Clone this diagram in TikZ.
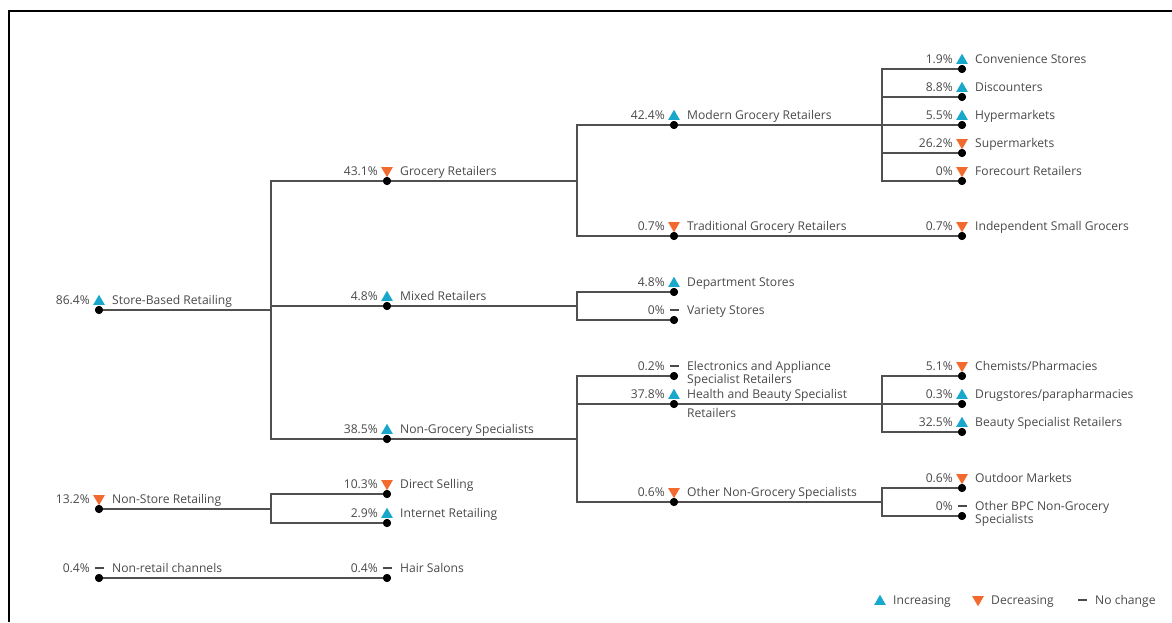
\documentclass[tikz,border=0pt]{standalone}
\usepackage{fontspec}
\setmainfont{Open Sans}
\usetikzlibrary{shapes.geometric}
\definecolor{upc}{HTML}{1AA7CC}
\definecolor{downc}{HTML}{F26A2E}
\definecolor{txt}{HTML}{4A4A4A}
\definecolor{linec}{HTML}{505050}
\tikzset{
  dotn/.style={circle,fill=black,inner sep=0,minimum size=8},
  upn/.style={regular polygon,regular polygon sides=3,fill=upc,inner sep=0,minimum size=13.5},
  downn/.style={regular polygon,regular polygon sides=3,shape border rotate=180,fill=downc,inner sep=0,minimum size=13.5},
  flatn/.style={rectangle,fill=txt,inner sep=0,minimum width=9,minimum height=1.8},
  txtn/.style={text=txt,inner sep=0,font=\fontsize{12.1}{13}\selectfont},
  conn/.style={draw=linec,line width=1.1},
}
% name, x, y, pct, symbol style, label
\newcommand\entry[6]{%
  \node[dotn] (#1) at (#2,#3) {};
  \ifx#5u\node[upn] (#1-s) at (#2,#3-8.5) {};\fi
  \ifx#5d\node[downn] (#1-s) at (#2,#3-10.5) {};\fi
  \ifx#5f\node[flatn] (#1-s) at (#2,#3-10) {};\fi
  \node[txtn,anchor=base east] (#1-p) at (#2-9,#3-6) {#4};
  \node[txtn,anchor=base west] (#1-l) at (#2+13,#3-6) {#6};
}
\begin{document}
\begin{tikzpicture}[x=1pt,y=-1pt]
\useasboundingbox (0,0) rectangle (1172,622);
\fill[white] (0,0) rectangle (1172,622);
\draw[line width=2.5] (9,622) -- (9,11) -- (1172,11);

% level 0
\entry{sbr}{99}{310}{86.4\%}{u}{Store-Based Retailing}
\entry{nsr}{99}{509}{13.2\%}{d}{Non-Store Retailing}
\entry{nrc}{99}{578}{0.4\%}{f}{Non-retail channels}
% level 1
\entry{gro}{387}{181}{43.1\%}{d}{Grocery Retailers}
\entry{mix}{387}{306}{4.8\%}{u}{Mixed Retailers}
\entry{ngs}{387}{439}{38.5\%}{u}{Non-Grocery Specialists}
\entry{dsl}{387}{494}{10.3\%}{d}{Direct Selling}
\entry{int}{387}{523}{2.9\%}{u}{Internet Retailing}
\entry{hair}{387}{578}{0.4\%}{f}{Hair Salons}
% level 2
\entry{mgr}{674}{125}{42.4\%}{u}{Modern Grocery Retailers}
\entry{tgr}{674}{236}{0.7\%}{d}{Traditional Grocery Retailers}
\entry{dep}{674}{292}{4.8\%}{u}{Department Stores}
\entry{var}{674}{320}{0\%}{f}{Variety Stores}
\entry{ele}{674}{376}{0.2\%}{f}{Electronics and Appliance}
\node[txtn,anchor=base west] (ele-l2) at (687,383) {Specialist Retailers};
\entry{hbs}{674}{404}{37.8\%}{u}{Health and Beauty Specialist}
\node[txtn,anchor=base west] (hbs-l2) at (687,417) {Retailers};
\entry{ong}{674}{502}{0.6\%}{d}{Other Non-Grocery Specialists}
% level 3
\entry{cvs}{962}{69}{1.9\%}{u}{Convenience Stores}
\entry{dis}{962}{97}{8.8\%}{u}{Discounters}
\entry{hyp}{962}{125}{5.5\%}{u}{Hypermarkets}
\entry{sup}{962}{153}{26.2\%}{d}{Supermarkets}
\entry{fcr}{962}{181}{0\%}{d}{Forecourt Retailers}
\entry{isg}{962}{236}{0.7\%}{d}{Independent Small Grocers}
\entry{chm}{962}{376}{5.1\%}{d}{Chemists/Pharmacies}
\entry{drg}{962}{404}{0.3\%}{u}{Drugstores/parapharmacies}
\entry{bsr}{962}{432}{32.5\%}{u}{Beauty Specialist Retailers}
\entry{odm}{962}{488}{0.6\%}{d}{Outdoor Markets}
\entry{obp}{962}{516}{0\%}{f}{Other BPC Non-Grocery}
\node[txtn,anchor=base west] (obp-l2) at (975,523.5) {Specialists};

% connectors
\foreach \p/\bx/\c in {sbr/271/gro, sbr/271/mix, sbr/271/ngs,
  nsr/271/dsl, nsr/271/int,
  gro/577/mgr, gro/577/tgr, mix/577/dep, mix/577/var,
  ngs/577/ele, ngs/577/hbs, ngs/577/ong,
  mgr/882/cvs, mgr/882/dis, mgr/882/hyp, mgr/882/sup, mgr/882/fcr,
  hbs/882/chm, hbs/882/drg, hbs/882/bsr,
  ong/882/odm, ong/882/obp}
  {\draw[conn] (\p.center) -- (\bx,0 |- \p.center) |- (\c.center);}
\draw[conn] (tgr.center) -- (isg.center);
\draw[conn] (nrc.center) -- (hair.center);
% redraw dots above lines
\foreach \n in {sbr,nsr,nrc,gro,mix,ngs,dsl,int,hair,mgr,tgr,dep,var,ele,hbs,ong,cvs,dis,hyp,sup,fcr,isg,chm,drg,bsr,odm,obp}
  {\fill (\n.center) circle (4);}

% legend
\node[upn] (lg-up) at (880,601.5) {};
\node[txtn,anchor=base west] (lg-upt) at (893,604) {Increasing};
\node[downn] (lg-dn) at (978,599.5) {};
\node[txtn,anchor=base west] (lg-dnt) at (991,604) {Decreasing};
\node[flatn] (lg-fl) at (1082,600) {};
\node[txtn,anchor=base west] (lg-flt) at (1095,604) {No change};
\end{tikzpicture}
\end{document}
